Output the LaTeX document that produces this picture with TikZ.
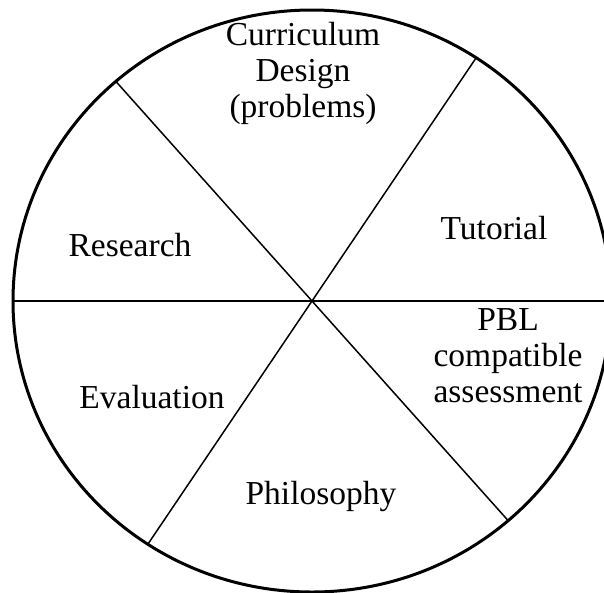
\documentclass[tikz,border=0pt]{standalone}
\usepackage{fontspec}
\setmainfont{Liberation Serif}
\begin{document}
\begin{tikzpicture}[x=1pt,y=-1pt,
    part/.style={align=center,font=\fontsize{33.5}{36}\selectfont},
    rim/.style={line width=3pt},
    spoke/.style={line width=1.5pt}]
        \useasboundingbox (0,0) rectangle (604,592);
        \coordinate (c) at (312,301);

        % points on the rim
        \path (c) ++(180:299pt and 291pt) coordinate (w);
        \path (c) ++(0:299pt and 291pt) coordinate (e);
        \path (c) ++(131:299pt and 291pt) coordinate (nw);
        \path (c) ++(311:299pt and 291pt) coordinate (se);
        \path (c) ++(56.7:299pt and 291pt) coordinate (ne);
        \path (c) ++(236.7:299pt and 291pt) coordinate (sw);

        \draw[spoke] (w) -- (e);
        \draw[spoke] (nw) -- (se);
        \draw[spoke] (ne) -- (sw);
        \draw[rim] (c) ellipse [x radius=299pt, y radius=291pt];

        \node[part] (design) at (303,73) {Curriculum\\Design\\(problems)};
        \node[part] (tutorial) at (494,228) {Tutorial};
        \node[part] (research) at (130,245) {Research};
        \node[part] (pbl) at (508,356) {PBL\\compatible\\assessment};
        \node[part] (evaluation) at (152,397) {Evaluation};
        \node[part] (philosophy) at (321,496) {Philosophy};
\end{tikzpicture}
\end{document}
